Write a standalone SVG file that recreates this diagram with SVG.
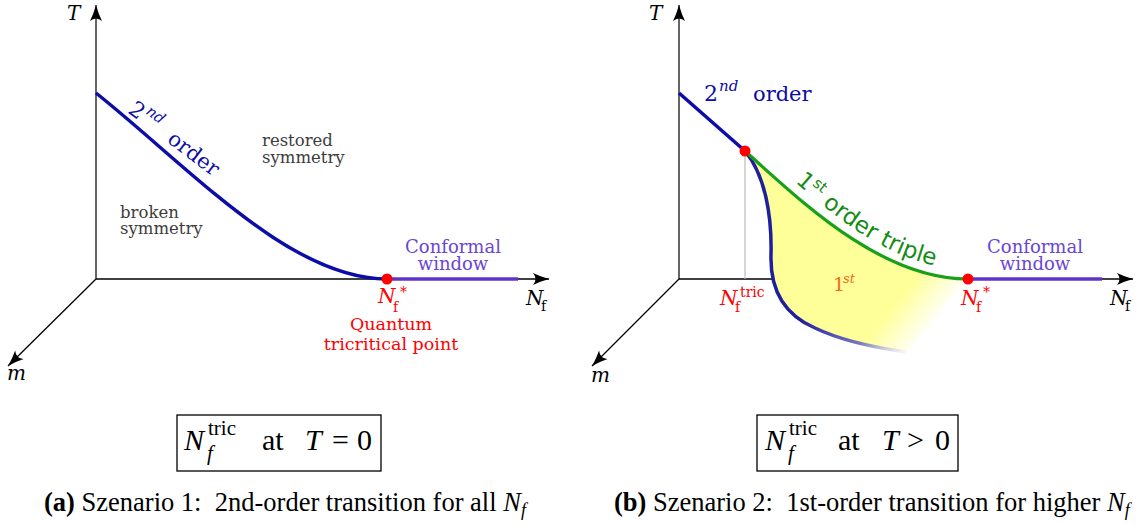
<svg xmlns="http://www.w3.org/2000/svg" width="1140" height="525" viewBox="0 0 1140 525">
<style>
.ax{stroke:#000;stroke-width:1.3;fill:none}
.tax{stroke:#666;stroke-width:2;fill:none}
.cm{font-family:"DejaVu Serif",serif}
.mi{font-family:"DejaVu Serif",serif;font-style:italic}
.tm{font-family:"Liberation Serif","Times New Roman",serif}
.gray{fill:#3c3c3c;font-size:16.5px}
.purp{fill:#6b45d3;font-size:18px;text-anchor:middle}
.red{fill:#ff0000}
.blue{fill:#0c0ca8}
.dot{fill:#ff0000}
.box{fill:none;stroke:#000;stroke-width:1.3}
</style>
<defs>
<marker id="arr" viewBox="-17 -7 18 14" markerWidth="18" markerHeight="14" refX="0" refY="0" orient="auto" markerUnits="userSpaceOnUse">
<path d="M0,0 Q-9,-2.5 -16,-6 Q-11,0 -16,6 Q-9,2.5 0,0Z" fill="#000"/>
</marker>
<linearGradient id="yfade" gradientUnits="userSpaceOnUse" x1="905" y1="292" x2="940" y2="320">
<stop offset="0" stop-color="#ffff99" stop-opacity="1"/>
<stop offset="1" stop-color="#ffff99" stop-opacity="0"/>
</linearGradient>
<linearGradient id="bfade" gradientUnits="userSpaceOnUse" x1="800" y1="0" x2="910" y2="0">
<stop offset="0" stop-color="#1e1ea0" stop-opacity="1"/>
<stop offset="0.55" stop-color="#6a6ac0" stop-opacity="0.9"/>
<stop offset="1" stop-color="#b0b0e8" stop-opacity="0"/>
</linearGradient>
<path id="tp" d="M752,143 C807,192 880,269 968,269"/>
</defs>

<!-- Panel (a) -->
<g id="panel-a-axes">
<line class="tax" x1="96" y1="279" x2="96" y2="5" marker-end="url(#arr)"/>
<line class="ax" x1="96" y1="279" x2="549" y2="279" marker-end="url(#arr)"/>
<line class="ax" x1="96" y1="279" x2="8" y2="366" stroke-width="1.2" marker-end="url(#arr)"/>
<text class="mi" x="67" y="20" font-size="20">T</text>
<text class="mi" x="7" y="380" font-size="20">m</text>
<text class="mi" x="526" y="305" font-size="20">N</text>
<text class="cm" x="541" y="311" font-size="14">f</text>
</g>
<g id="panel-a-curves">
<path d="M96,93 C190,168 290,279 387,279" fill="none" stroke="#0c0ca8" stroke-width="3.5"/>
<line x1="387" y1="279" x2="518" y2="279" stroke="#6034c8" stroke-width="3.5"/>
</g>
<g id="panel-a-labels">
<g transform="translate(127,112) rotate(37)">
<text class="cm blue" x="0" y="0" font-size="22">2</text>
<text class="mi blue" x="15" y="-10" font-size="15">nd</text>
<text class="cm blue" x="49" y="0" font-size="21">order</text>
</g>
<text class="cm gray" x="262" y="146">restored</text>
<text class="cm gray" x="262" y="163">symmetry</text>
<text class="cm gray" x="120" y="218">broken</text>
<text class="cm gray" x="120" y="234">symmetry</text>
<text class="cm purp" x="453" y="253">Conformal</text>
<text class="cm purp" x="453" y="270">window</text>
</g>
<g id="panel-a-qtp">
<circle class="dot" cx="387" cy="279" r="5.5"/>
<text class="mi red" x="378" y="303" font-size="20">N</text>
<text class="cm red" x="393" y="312" font-size="14">f</text>
<text class="cm red" x="400" y="297" font-size="14">*</text>
<text class="cm red" x="391" y="330" font-size="17.5" text-anchor="middle">Quantum</text>
<text class="cm red" x="391" y="350" font-size="17.5" text-anchor="middle">tricritical point</text>
</g>

<!-- Panel (b) -->
<g id="panel-b-axes">
<line class="tax" x1="679" y1="279" x2="679" y2="5" marker-end="url(#arr)"/>
<line class="ax" x1="679" y1="279" x2="772" y2="279"/>
<line class="ax" x1="968" y1="279" x2="1133" y2="279" marker-end="url(#arr)"/>
<line class="ax" x1="679" y1="279" x2="592" y2="366" stroke-width="1.2" marker-end="url(#arr)"/>
<line x1="745" y1="151" x2="745" y2="279" stroke="#bbbbbb" stroke-width="1.2"/>
<text class="mi" x="649" y="20" font-size="20">T</text>
<text class="mi" x="591" y="382" font-size="20">m</text>
<text class="mi" x="1110" y="305" font-size="20">N</text>
<text class="cm" x="1125" y="311" font-size="14">f</text>
</g>
<g id="panel-b-region">
<path d="M745,151 C800,200 880,279 968,279 L907,352 C870,347 840,340 815,328 C785,315 770,290 771,255 C772,215 765,175 745,151 Z" fill="url(#yfade)"/>
</g>
<g id="panel-b-curves">
<line x1="679" y1="93" x2="745" y2="151" stroke="#0c0ca8" stroke-width="3.5"/>
<path d="M745,151 C765,175 772,215 771,255 C770,290 785,315 815,328 C840,340 870,347 907,352" fill="none" stroke="url(#bfade)" stroke-width="3.5"/>
<path d="M745,151 C800,200 880,279 968,279" fill="none" stroke="#18a018" stroke-width="3.2"/>
<line x1="968" y1="279" x2="1102" y2="279" stroke="#6034c8" stroke-width="3.5"/>
</g>
<g id="panel-b-labels">
<text class="cm blue" x="704" y="101" font-size="22">2</text>
<text class="mi blue" x="719" y="91" font-size="15">nd</text>
<text class="cm blue" x="753" y="101" font-size="21">order</text>
<text font-family="DejaVu Sans, sans-serif" font-size="23" fill="#148c14"><textPath href="#tp" startOffset="58">1<tspan font-size="15" dy="-9">st</tspan><tspan dy="9"> order triple</tspan></textPath></text>
<text class="cm" x="833" y="291" font-size="19" fill="#f26a1b">1</text>
<text class="mi" x="843" y="283" font-size="13" fill="#f26a1b">st</text>
<text class="cm purp" x="1035" y="253">Conformal</text>
<text class="cm purp" x="1035" y="270">window</text>
</g>
<g id="panel-b-points">
<circle class="dot" cx="745" cy="151" r="5.5"/>
<circle class="dot" cx="968" cy="279" r="5.5"/>
<text class="mi red" x="720" y="305" font-size="20">N</text>
<text class="cm red" x="735" y="312" font-size="14">f</text>
<text class="cm red" x="740" y="297" font-size="14">tric</text>
<text class="mi red" x="961" y="305" font-size="20">N</text>
<text class="cm red" x="976" y="312" font-size="14">f</text>
<text class="cm red" x="983" y="297" font-size="14">*</text>
</g>

<!-- Boxes -->
<g id="box-a">
<rect class="box" x="177" y="415" width="204" height="56"/>
<text class="tm" font-size="30" font-style="italic" x="184" y="450">N</text>
<text class="tm" font-size="21" x="208" y="435">tric</text>
<text class="tm" font-size="21" font-style="italic" x="207" y="460">f</text>
<text class="tm" font-size="30" x="262" y="450">at</text>
<text class="tm" font-size="30" font-style="italic" x="305" y="450">T</text>
<text class="tm" font-size="30" x="332" y="450">=</text>
<text class="tm" font-size="30" x="357" y="450">0</text>
</g>
<g id="box-b">
<rect class="box" x="757" y="415" width="201" height="56"/>
<text class="tm" font-size="30" font-style="italic" x="765" y="450">N</text>
<text class="tm" font-size="21" x="789" y="435">tric</text>
<text class="tm" font-size="21" font-style="italic" x="788" y="460">f</text>
<text class="tm" font-size="30" x="838" y="450">at</text>
<text class="tm" font-size="30" font-style="italic" x="882" y="450">T</text>
<text class="tm" font-size="30" x="907" y="450">&gt;</text>
<text class="tm" font-size="30" x="935" y="450">0</text>
</g>

<!-- Captions -->
<g id="captions">
<text class="tm" font-size="26.5" x="44" y="511"><tspan font-weight="bold">(a)</tspan> Szenario 1:&#160; 2nd-order transition for all <tspan font-style="italic">N</tspan><tspan font-style="italic" font-size="18" dy="5">f</tspan></text>
<text class="tm" font-size="26.5" x="614" y="511"><tspan font-weight="bold">(b)</tspan> Szenario 2:&#160; 1st-order transition for higher <tspan font-style="italic">N</tspan><tspan font-style="italic" font-size="18" dy="5">f</tspan></text>
</g>
</svg>
